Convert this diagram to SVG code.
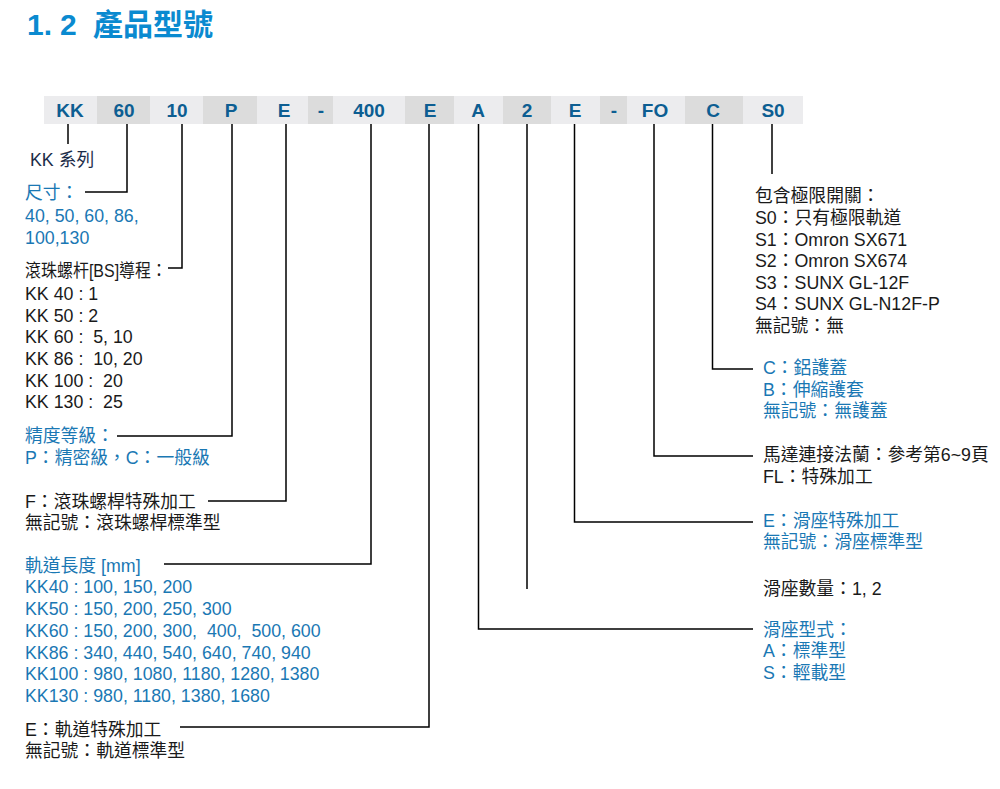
<svg xmlns="http://www.w3.org/2000/svg" width="1000" height="789" viewBox="0 0 1000 789">
<style>
text{font-family:'Liberation Sans','Noto Sans CJK TC',sans-serif;font-size:17.8px;white-space:pre}
.title{font-size:30px;font-weight:bold;fill:#0a8ad0}
.code{font-size:19px;font-weight:bold;fill:#0d5e92;text-anchor:middle}
.k{fill:#1a1a1a}
.b{fill:#1a78b4}
.n{fill:#1c2c48}
.lt{fill:#ececee}
.dk{fill:#dcdcdc}
.ln{fill:none;stroke:#000;stroke-width:1.5}
</style>
<g id="title"><text class="title" x="27" y="35">1.<tspan x="60">2</tspan><tspan x="93">產品型號</tspan></text></g>
<g id="bar">
<rect class="lt" x="44" y="96" width="53" height="28"/>
<rect class="dk" x="97" y="96" width="53" height="28"/>
<rect class="lt" x="150" y="96" width="53" height="28"/>
<rect class="dk" x="203" y="96" width="54" height="28"/>
<rect class="lt" x="257" y="96" width="51" height="28"/>
<rect class="dk" x="308" y="96" width="25" height="28"/>
<rect class="lt" x="333" y="96" width="72" height="28"/>
<rect class="dk" x="405" y="96" width="49" height="28"/>
<rect class="lt" x="454" y="96" width="49" height="28"/>
<rect class="dk" x="503" y="96" width="48" height="28"/>
<rect class="lt" x="551" y="96" width="49" height="28"/>
<rect class="dk" x="600" y="96" width="27" height="28"/>
<rect class="lt" x="627" y="96" width="58" height="28"/>
<rect class="dk" x="685" y="96" width="58" height="28"/>
<rect class="lt" x="743" y="96" width="60" height="28"/>
<text class="code" x="70" y="117">KK</text>
<text class="code" x="124" y="117">60</text>
<text class="code" x="177" y="117">10</text>
<text class="code" x="231" y="117">P</text>
<text class="code" x="284" y="117">E</text>
<text class="code" x="321" y="117">-</text>
<text class="code" x="369" y="117">400</text>
<text class="code" x="430" y="117">E</text>
<text class="code" x="478" y="117">A</text>
<text class="code" x="527" y="117">2</text>
<text class="code" x="575" y="117">E</text>
<text class="code" x="614" y="117">-</text>
<text class="code" x="655" y="117">FO</text>
<text class="code" x="713" y="117">C</text>
<text class="code" x="773" y="117">S0</text>
</g>
<g id="connectors">
<path class="ln" d="M68,124V144"/>
<path class="ln" d="M127,124V192H85"/>
<path class="ln" d="M182,124V268H168"/>
<path class="ln" d="M232,124V436H117"/>
<path class="ln" d="M286,124V501H208"/>
<path class="ln" d="M371,124V564H164"/>
<path class="ln" d="M429,124V727H180"/>
<path class="ln" d="M478.5,124V629H753"/>
<path class="ln" d="M527,124V589"/>
<path class="ln" d="M574.5,124V522H753"/>
<path class="ln" d="M654,124V456H753"/>
<path class="ln" d="M712.5,124V369H753"/>
<path class="ln" d="M772,124V174"/>
</g>
<g id="kk-series"><text class="n" x="30" y="166">KK 系列</text></g>
<g id="size">
<text class="b" x="25" y="199">尺寸：</text>
<text class="b" x="25" y="222">40, 50, 60, 86,</text>
<text class="b" x="25" y="244">100,130</text>
</g>
<g id="lead">
<text class="k" x="25" y="277" textLength="142" lengthAdjust="spacingAndGlyphs">滾珠螺杆[BS]導程：</text>
<text class="k" x="25" y="300">KK 40 : 1</text>
<text class="k" x="25" y="322">KK 50 : 2</text>
<text class="k" x="25" y="343" xml:space="preserve">KK 60 :  5, 10</text>
<text class="k" x="25" y="365" xml:space="preserve">KK 86 :  10, 20</text>
<text class="k" x="25" y="387" xml:space="preserve">KK 100 :  20</text>
<text class="k" x="25" y="408" xml:space="preserve">KK 130 :  25</text>
</g>
<g id="precision">
<text class="b" x="25" y="442">精度等級：</text>
<text class="b" x="25" y="464">P：精密級，C：一般級</text>
</g>
<g id="screw-process">
<text class="k" x="25" y="508">F：滾珠螺桿特殊加工</text>
<text class="k" x="25" y="529">無記號：滾珠螺桿標準型</text>
</g>
<g id="rail-length">
<text class="b" x="25" y="572">軌道長度 [mm]</text>
<text class="b" x="25" y="593">KK40 : 100, 150, 200</text>
<text class="b" x="25" y="615">KK50 : 150, 200, 250, 300</text>
<text class="b" x="25" y="637" xml:space="preserve">KK60 : 150, 200, 300,  400,  500, 600</text>
<text class="b" x="25" y="659">KK86 : 340, 440, 540, 640, 740, 940</text>
<text class="b" x="25" y="680">KK100 : 980, 1080, 1180, 1280, 1380</text>
<text class="b" x="25" y="702">KK130 : 980, 1180, 1380, 1680</text>
</g>
<g id="rail-process">
<text class="k" x="25" y="736">E：軌道特殊加工</text>
<text class="k" x="25" y="757">無記號：軌道標準型</text>
</g>
<g id="limit-switch">
<text class="k" x="755" y="202">包含極限開關：</text>
<text class="k" x="755" y="224">S0：只有極限軌道</text>
<text class="k" x="755" y="246">S1：Omron SX671</text>
<text class="k" x="755" y="267">S2：Omron SX674</text>
<text class="k" x="755" y="289">S3：SUNX GL-12F</text>
<text class="k" x="755" y="310">S4：SUNX GL-N12F-P</text>
<text class="k" x="755" y="332">無記號：無</text>
</g>
<g id="cover">
<text class="b" x="763" y="374">C：鋁護蓋</text>
<text class="b" x="763" y="396">B：伸縮護套</text>
<text class="b" x="763" y="417">無記號：無護蓋</text>
</g>
<g id="flange">
<text class="k" x="763" y="461">馬達連接法蘭：參考第6~9頁</text>
<text class="k" x="763" y="483">FL：特殊加工</text>
</g>
<g id="block-process">
<text class="b" x="763" y="527">E：滑座特殊加工</text>
<text class="b" x="763" y="548">無記號：滑座標準型</text>
</g>
<g id="block-count"><text class="k" x="763" y="595">滑座數量：1, 2</text></g>
<g id="block-type">
<text class="b" x="763" y="636">滑座型式：</text>
<text class="b" x="763" y="657">A：標準型</text>
<text class="b" x="763" y="679">S：輕載型</text>
</g>
</svg>
